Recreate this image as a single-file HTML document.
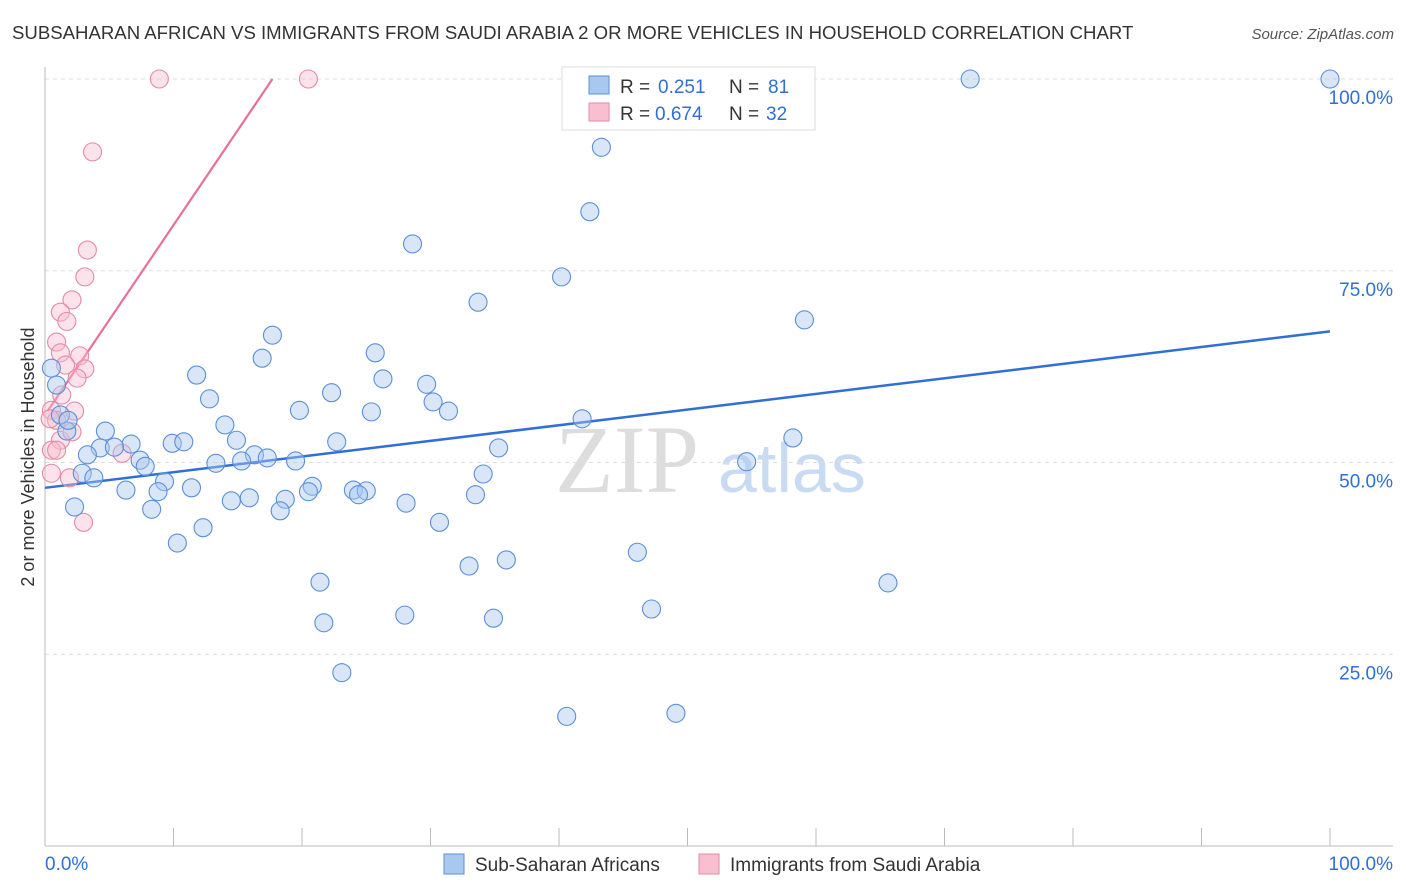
<!DOCTYPE html>
<html><head><meta charset="utf-8"><style>
body{margin:0;background:#fff;font-family:"Liberation Sans",sans-serif}
svg{display:block}
</style></head><body>
<svg id="chart" width="1406" height="892" font-family="Liberation Sans, sans-serif">
<text x="12" y="39" font-size="18.6" fill="#333">SUBSAHARAN AFRICAN VS IMMIGRANTS FROM SAUDI ARABIA 2 OR MORE VEHICLES IN HOUSEHOLD CORRELATION CHART</text>
<text x="1394" y="39" font-size="15" fill="#555" font-style="italic" text-anchor="end">Source: ZipAtlas.com</text>
<text x="555" y="492" font-size="96" fill="#ddd" font-family="Liberation Serif, serif">ZIP</text>
<text x="718" y="492" font-size="70" fill="#c9dbf3">atlas</text>
<text transform="translate(34,457) rotate(-90)" font-size="18" fill="#333" text-anchor="middle">2 or more Vehicles in Household</text>
<g id="grid"></g><g id="axes"></g><g id="lines"></g><g id="pts"></g>
<g>
<rect x="562" y="67" width="253" height="63" fill="#fff" stroke="#ddd"/>
<rect x="589" y="76" width="20" height="18" fill="#a9c8f0" stroke="#5b8fd9"/>
<rect x="589" y="103" width="20" height="18" fill="#f8bfd0" stroke="#e58aa5"/>
<text x="620" y="93" font-size="19" fill="#333">R =</text>
<text x="658" y="93" font-size="19" fill="#2f6fd6">0.251</text>
<text x="729" y="93" font-size="19" fill="#333">N =</text>
<text x="768" y="93" font-size="19" fill="#2f6fd6">81</text>
<text x="620" y="120" font-size="19" fill="#333">R =</text>
<text x="655" y="120" font-size="19" fill="#2f6fd6">0.674</text>
<text x="729" y="120" font-size="19" fill="#333">N =</text>
<text x="766" y="120" font-size="19" fill="#2f6fd6">32</text>
</g>
<g>
<rect x="444" y="854" width="20" height="20" fill="#a9c8f0" stroke="#5b8fd9"/>
<text x="475" y="871" font-size="19" fill="#333">Sub-Saharan Africans</text>
<rect x="699" y="854" width="20" height="20" fill="#f8bfd0" stroke="#e58aa5"/>
<text x="730" y="871" font-size="19" fill="#333">Immigrants from Saudi Arabia</text>
</g>
</svg>
<script>
const blueX=[72,100,43.3,42.4,28.6,40.2,33.7,59.1,17.7,25.7,16.9,11.8,26.3,29.7,22.3,12.8,30.2,19.8,25.4,31.4,41.8,14.0,4.7,1.7,14.9,58.2,22.7,9.9,10.8,6.7,4.3,5.4,3.3,35.3,16.3,17.3,7.4,15.3,19.5,13.3,54.6,7.8,2.9,34.1,3.8,9.3,20.8,11.4,6.3,8.8,24.0,25.0,20.5,24.4,33.5,15.9,18.7,14.5,28.1,8.3,18.3,2.3,30.7,12.3,10.3,46.1,35.9,33.0,21.4,65.6,28.0,47.2,34.9,21.7,23.1,40.6,49.1,0.5,0.9,1.2,1.8];
const blueY=[100,100,91.1,82.7,78.5,74.2,70.9,68.6,66.6,64.3,63.6,61.4,60.9,60.2,59.1,58.3,57.9,56.8,56.6,56.7,55.7,54.9,54.1,54.1,52.9,53.2,52.7,52.5,52.7,52.4,51.9,52.0,51.0,51.9,51.0,50.6,50.3,50.2,50.2,49.9,50.1,49.5,48.6,48.5,48.0,47.5,46.9,46.7,46.4,46.2,46.4,46.3,46.2,45.8,45.8,45.4,45.2,45.0,44.7,43.9,43.7,44.2,42.2,41.5,39.5,38.3,37.3,36.5,34.4,34.3,30.1,30.9,29.7,29.1,22.6,16.9,17.3,62.3,60.1,56.2,55.5];
const pinkX=[8.9,20.5,3.7,3.3,3.1,2.1,1.2,1.7,0.9,2.7,1.2,3.1,1.6,2.5,1.3,2.3,0.5,0.9,0.4,1.2,2.1,6.0,0.5,0.5,1.9,3.0,0.9];
const pinkY=[100,100,90.5,77.7,74.2,71.2,69.6,68.4,65.7,63.9,64.3,62.2,62.7,61.0,58.8,56.7,56.8,55.5,55.7,52.9,54.0,51.2,51.6,48.6,48.0,42.2,51.6];
const blueTrend=[[0,46.7],[100,67.1]];
const pinkTrend=[[0.2,56.7],[17.7,100]];
const yTicks=[100,75,50,25];
const xTicks=[0,10,20,30,40,50,60,70,80,90,100];
const NS='http://www.w3.org/2000/svg';
const sx=v=>45+v*12.85, sy=v=>846-v*7.67;
function mk(tag,attrs,parent){const e=document.createElementNS(NS,tag);for(const k in attrs)e.setAttribute(k,attrs[k]);document.getElementById(parent).appendChild(e);return e;}
yTicks.forEach(t=>{
 const l=mk('line',{x1:45,x2:1393,y1:sy(t),y2:sy(t),stroke:'#ddd','stroke-dasharray':'4,4'},'grid');
 
 
 const tx=mk('text',{x:1393,y:sy(t)+25,'font-size':19,fill:'#2f6fd6','text-anchor':'end'},'grid');
 tx.textContent=t.toFixed(1)+'%';
 
 
});
const ax=mk('line',{x1:45,x2:45,y1:67,y2:846,stroke:'#bbb'},'axes');


const bx=mk('line',{x1:45,x2:1393,y1:846,y2:846,stroke:'#bbb'},'axes');


xTicks.forEach(t=>{
 const l=mk('line',{x1:sx(t),x2:sx(t),y1:828,y2:846,stroke:'#bbb'},'axes');
 
 
});
[[0,'start'],[100,'end']].forEach(([t,a])=>{
 const tx=mk('text',{x:t===0?45:1393,y:870,'font-size':19,fill:'#2f6fd6','text-anchor':a},'axes');
 tx.textContent=t.toFixed(1)+'%';
 
 
});
function pts(X,Y,fill,stroke,name){X.forEach((x,i)=>{
 const c=mk('circle',{cx:sx(x),cy:sy(Y[i]),r:9,fill:fill,'fill-opacity':0.45,stroke:stroke,'stroke-width':1.1},'pts');
 
 
});}
pts(pinkX,pinkY,'#f8bfd0','#e58aa5','saudi-point');
pts(blueX,blueY,'#a9c8f0','#5b8fd9','subsaharan-point');
const bl=mk('line',{x1:sx(blueTrend[0][0]),y1:sy(blueTrend[0][1]),x2:sx(blueTrend[1][0]),y2:sy(blueTrend[1][1]),stroke:'#2f6fd6','stroke-width':2.5},'lines');


const pl=mk('line',{x1:sx(pinkTrend[0][0]),y1:sy(pinkTrend[0][1]),x2:sx(pinkTrend[1][0]),y2:sy(pinkTrend[1][1]),stroke:'#e8709a','stroke-width':2.2},'lines');


</script>
</body></html>
